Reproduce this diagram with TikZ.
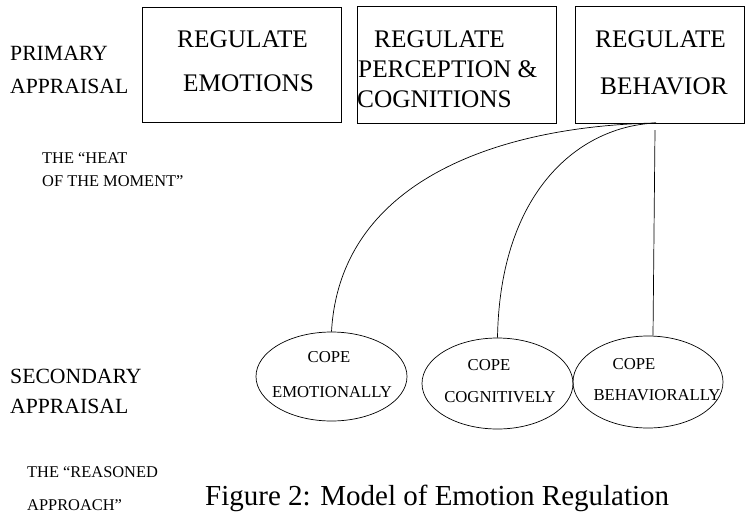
\documentclass[tikz,border=0pt]{standalone}
\usepackage{fontspec}
\setmainfont{Liberation Serif}
\usetikzlibrary{shapes.geometric}
\begin{document}
\begin{tikzpicture}[x=1pt,y=-1pt,
  boxnode/.style={draw,rectangle,inner sep=0pt,anchor=north west,line width=0.8pt},
  ellnode/.style={draw,ellipse,inner sep=0pt,line width=0.7pt},
  bigtxt/.style={inner sep=0pt,anchor=base west,font=\fontsize{25.3}{25.3}\selectfont},
  sidetxt/.style={inner sep=0pt,anchor=base west,font=\fontsize{21.7}{21.7}\selectfont},
  smalltxt/.style={inner sep=0pt,anchor=base west,font=\fontsize{16.4}{16.4}\selectfont},
  elltxt/.style={inner sep=0pt,anchor=base,font=\fontsize{16.7}{16.7}\selectfont},
  link/.style={line width=0.7pt}]
\useasboundingbox (0,0) rectangle (747,517);
% boxes
\node[boxnode,minimum width=199pt,minimum height=115pt] (b1) at (142,7) {};
\node[boxnode,minimum width=199pt,minimum height=117pt] (b2) at (357,6) {};
\node[boxnode,minimum width=169pt,minimum height=117pt] (b3) at (575,6) {};
% box texts
\node[bigtxt] (b1a) at (177,47) {REGULATE};
\node[bigtxt] (b1b) at (183,91) {EMOTIONS};
\node[bigtxt] (b2a) at (374,47) {REGULATE};
\node[bigtxt] (b2b) at (358,77) {PERCEPTION \&};
\node[bigtxt] (b2c) at (357,107) {COGNITIONS};
\node[bigtxt] (b3a) at (595,47) {REGULATE};
\node[bigtxt] (b3b) at (600,94) {BEHAVIOR};
% side labels
\node[sidetxt] (p1) at (10,60) {PRIMARY};
\node[sidetxt] (p2) at (10,93) {APPRAISAL};
\node[smalltxt] (h1) at (42,163) {THE “HEAT};
\node[smalltxt] (h2) at (42,186) {OF THE MOMENT”};
\node[sidetxt] (s1) at (10,383) {SECONDARY};
\node[sidetxt] (s2) at (10,413) {APPRAISAL};
\node[smalltxt] (r1) at (27,477) {THE “REASONED};
\node[smalltxt] (r2) at (27,510) {APPROACH”};
\node[inner sep=0pt,anchor=base west,font=\fontsize{29}{29}\selectfont] (cap) at (205,505) {Figure 2: Model of Emotion Regulation};
% ellipses
\node[ellnode,minimum width=151pt,minimum height=89pt] (e1) at (331.5,376.5) {};
\node[ellnode,minimum width=151pt,minimum height=91pt] (e2) at (497.5,383.5) {};
\node[ellnode,minimum width=150pt,minimum height=92pt] (e3) at (648,382) {};
\node[elltxt] (e1a) at (329,362) {COPE};
\node[elltxt] (e1b) at (332,397) {EMOTIONALLY};
\node[elltxt] (e2a) at (489,370) {COPE};
\node[elltxt] (e2b) at (500,402) {COGNITIVELY};
\node[elltxt] (e3a) at (634,369) {COPE};
\node[elltxt] (e3b) at (657,400) {BEHAVIORALLY};
% connectors
\coordinate (hub) at (656,123);
\coordinate (hubv) at (655,130);
\draw[link] (hub) .. controls (500,126) and (340,180) .. (e1.north);
\draw[link] (hub) .. controls (580,126) and (500,190) .. (e2.north);
\draw[link] (hubv) -- ([xshift=5pt]e3.north);
\end{tikzpicture}
\end{document}
